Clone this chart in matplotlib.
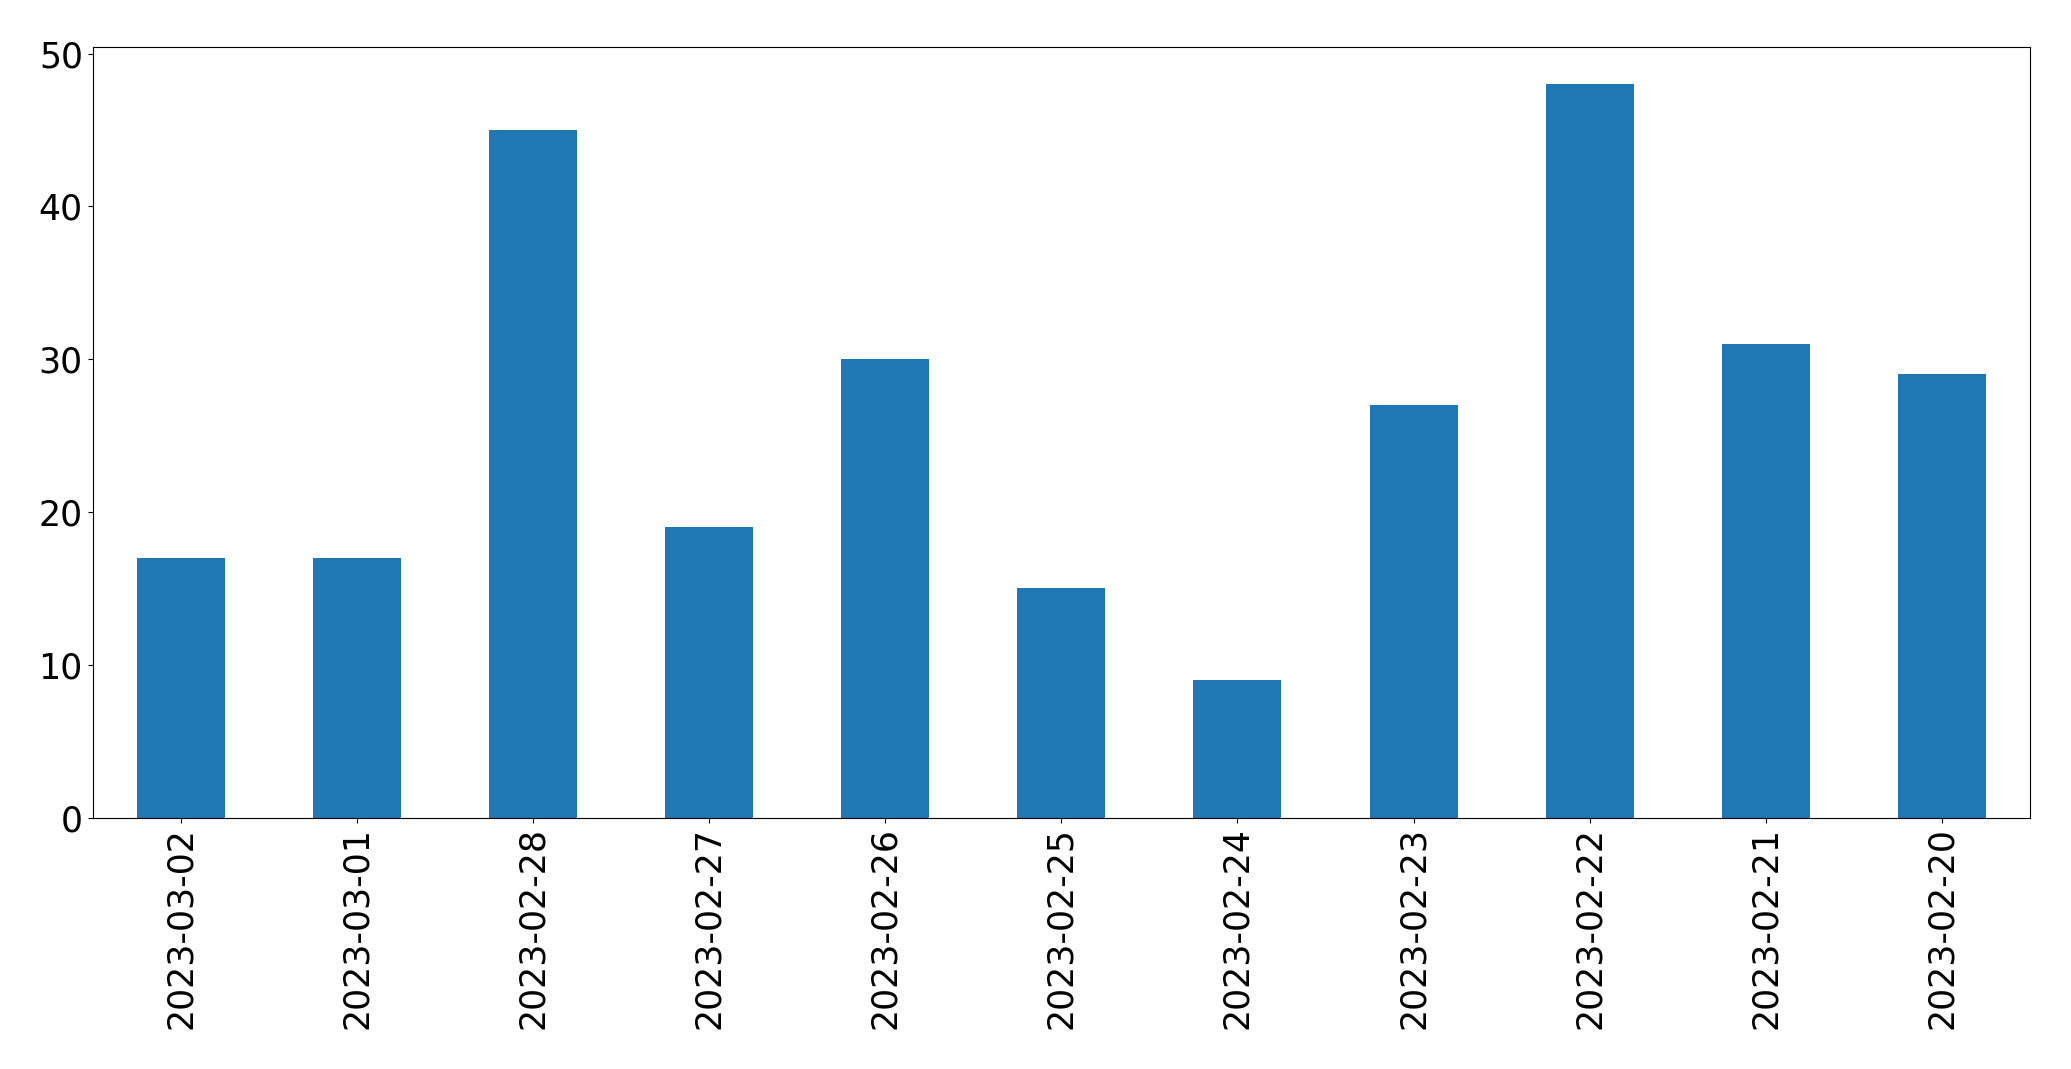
import matplotlib
matplotlib.use('Agg')
import matplotlib.pyplot as plt
import pandas as pd

dates = ['2023-03-02', '2023-03-01', '2023-02-28', '2023-02-27', '2023-02-26', '2023-02-25',
         '2023-02-24', '2023-02-23', '2023-02-22', '2023-02-21', '2023-02-20']
counts = [17, 17, 45, 19, 30, 15, 9, 27, 48, 31, 29]

s = pd.Series(counts, index=dates)

fig = plt.figure(figsize=(20.71, 10.69), dpi=100)
ax = fig.add_axes([0.0447, 0.2352, 0.9355, 0.7204])
s.plot(kind='bar', ax=ax, color='#1f77b4', fontsize=25)
ax.tick_params(axis='x', labelrotation=90)
fig.savefig('out.png', dpi=100)
